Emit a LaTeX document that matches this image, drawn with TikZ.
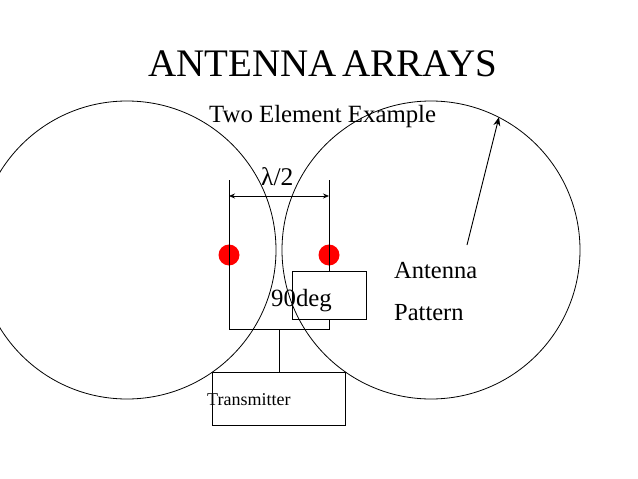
\documentclass[tikz,border=0pt]{standalone}
\usepackage{fontspec}
\setmainfont{Liberation Serif}
\usetikzlibrary{positioning,arrows.meta}

\tikzset{
    wire/.style={draw, line width=0.9},
    boxnode/.style={draw, line width=0.9, inner sep=0, fill=none},
    dipole/.style={circle, fill=red, inner sep=0, minimum size=21},
    txt/.style={inner sep=0, anchor=base west}
}

\begin{document}
\begin{tikzpicture}[x=1pt, y=-1pt]

    % Radius
    \def\r{149}

    \useasboundingbox (0,0) rectangle (638,479);

    % Title
    \node[txt, font=\fontsize{39}{39}\selectfont] (title) at (148,76) {\spaceskip=6pt ANTENNA ARRAYS};
    \node[txt, font=\fontsize{24.8}{24.8}\selectfont] (subtitle) at (209,122) {Two Element Example};

    % Patterns
    \coordinate (cl) at (127,250);
    \coordinate (cr) at (431,250);
    \begin{scope}
        \clip (0,0) rectangle (638,479);
        \draw[line width=0.8] (cl) circle (\r);
        \draw[line width=0.8] (cr) circle (\r);
    \end{scope}

    % Elements
    \node[dipole] (dl) at (229,255) {};
    \node[dipole] (dr) at (329,255) {};

    % Boxes
    \node[boxnode, minimum width=74, minimum height=48] (phase) at (329,295) {};
    \node[boxnode, minimum width=133, minimum height=53] (tx) at (278.5,398.5) {};

    % Wires
    \coordinate (tl) at (229,180);
    \coordinate (tr) at (329,180);
    \coordinate (bl) at (229,329);
    \coordinate (br) at (329,329);
    \coordinate (bm) at (279,329);
    \draw[wire] (tl) -- (bl) -- (br) -- (phase.south);
    \draw[wire] (tr) -- (phase.north);
    \draw[wire] (bm) -- (bm |- tx.north);

    % Spacing
    \coordinate (sl) at (229,196);
    \coordinate (sr) at (329,196);
    \draw[{Stealth[length=6,width=5]}-{Stealth[length=6,width=5]}, line width=0.8] (sl) -- (sr);

    % Pointer
    \coordinate (pa) at (467,245);
    \coordinate (pb) at (499,117);
    \draw[-{Stealth[length=9,width=7]}, line width=0.9] (pa) -- (pb);

    % Labels
    \node[txt, font=\fontsize{25.5}{25.5}\selectfont] (lam) at (261,185) {λ/2};
    \node[txt, font=\fontsize{24.8}{24.8}\selectfont] (deg) at (271,306) {90deg};
    \node[txt, font=\fontsize{24.5}{24.5}\selectfont] (ant) at (394,278) {Antenna};
    \node[txt, font=\fontsize{24.5}{24.5}\selectfont] (pat) at (394,320) {Pattern};
    \node[txt, font=\fontsize{18}{18}\selectfont] (txl) at (207,405) {Transmitter};

\end{tikzpicture}
\end{document}
